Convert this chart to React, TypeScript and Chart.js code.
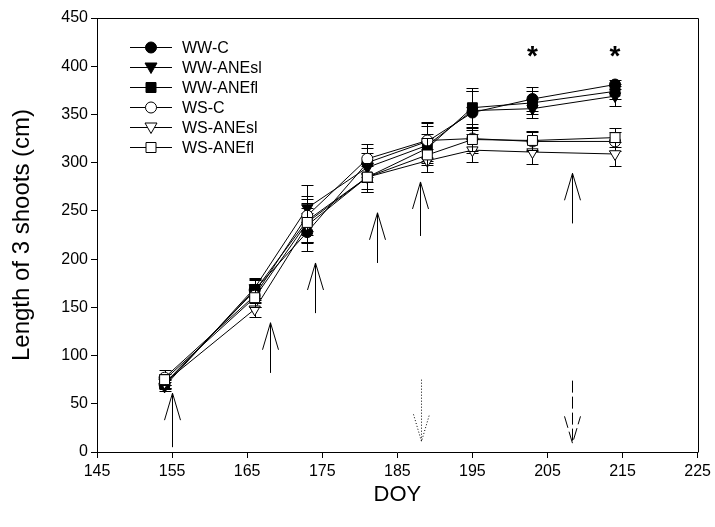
import React, { useEffect, useRef } from "react";
import { Chart, registerables } from "chart.js";

Chart.register(...registerables);

// ---- data ----
const days = [154, 166, 173, 181, 189, 195, 203, 214];
const seriesNames = ["WW-C", "WW-ANEsl", "WW-ANEfl", "WS-C", "WS-ANEsl", "WS-ANEfl"];
const wwC = [70, 168, 228, 300, 322, 352, 366, 381];
const wwAnesl = [68, 170, 253, 295, 318, 354, 356, 369];
const wwAnefl = [71, 167, 240, 285, 315, 357, 362, 374];
const wsC = [77, 162, 245, 304, 323, 325, 322, 322];
const wsAnesl = [72, 148, 235, 285, 302, 313, 311, 309];
const wsAnefl = [75, 160, 238, 285, 308, 324, 323, 326];
const errWwC = [5, 10, 20, 15, 20, 22, 12, 5];
const errWwAnesl = [5, 10, 24, 15, 20, 20, 10, 10];
const errWwAnefl = [5, 12, 22, 12, 15, 20, 12, 8];
const errWsC = [8, 12, 20, 15, 18, 15, 10, 10];
const errWsAnesl = [6, 8, 18, 15, 12, 12, 12, 12];
const errWsAnefl = [6, 10, 20, 15, 18, 12, 10, 10];

const xTicks = [145, 155, 165, 175, 185, 195, 205, 215, 225];
const yTicks = [0, 50, 100, 150, 200, 250, 300, 350, 400, 450];

// solid upward arrows
const arrowDays = [155, 168, 174, 182.3, 188, 208.2];
const arrowTips = [61, 134, 196, 248, 280, 289];
const arrowTails = [5, 82, 144, 196, 224, 237];
// downward arrows (dotted, dashed)
const dropDays = [188.1, 208.2];
const dropTops = [75, 74];
const dropTips = [11, 9];
// significance stars
const starDays = [203, 214];
const starValues = [418, 418];

const seriesValues = [wwC, wwAnesl, wwAnefl, wsC, wsAnesl, wsAnefl];
const seriesErrors = [errWwC, errWwAnesl, errWwAnefl, errWsC, errWsAnesl, errWsAnefl];
const seriesShapes = ["circle", "triangle", "rect", "circle", "triangle", "rect"];
const seriesFilled = [true, true, true, false, false, false];

const FONT = "'Liberation Sans', Arial, Helvetica, sans-serif";

function drawMarker(ctx: CanvasRenderingContext2D, shape: string, filled: boolean, x: number, y: number) {
  ctx.save();
  ctx.beginPath();
  if (shape === "circle") {
    ctx.arc(x, y, 5.5, 0, Math.PI * 2);
  } else if (shape === "triangle") {
    ctx.moveTo(x - 6, y - 4.5);
    ctx.lineTo(x + 6, y - 4.5);
    ctx.lineTo(x, y + 6);
    ctx.closePath();
  } else {
    ctx.rect(x - 5, y - 5, 10, 10);
  }
  ctx.fillStyle = filled ? "#000" : "#fff";
  ctx.fill();
  ctx.lineWidth = 1;
  ctx.strokeStyle = "#000";
  ctx.stroke();
  ctx.restore();
}

function drawArrow(ctx: CanvasRenderingContext2D, x: number, yTail: number, yTip: number, dash: number[]) {
  const dir = yTip < yTail ? 1 : -1; // 1 = pointing up
  const headLen = 27;
  const halfW = 8;
  ctx.save();
  ctx.strokeStyle = "#000";
  ctx.lineWidth = 1;
  ctx.setLineDash(dash);
  ctx.beginPath();
  ctx.moveTo(x, yTail);
  ctx.lineTo(x, yTip);
  ctx.moveTo(x - halfW, yTip + dir * headLen);
  ctx.lineTo(x, yTip);
  ctx.lineTo(x + halfW, yTip + dir * headLen);
  ctx.stroke();
  ctx.restore();
}

const customPlugin = {
  id: "custom",
  beforeDatasetDraw(chart: any, args: any) {
    const ctx = chart.ctx;
    const xs = chart.scales.x;
    const ys = chart.scales.y;
    const i = args.index;
    const vals = seriesValues[i];
    const errs = seriesErrors[i];
    ctx.save();
    ctx.strokeStyle = "#000";
    ctx.lineWidth = 1;
    ctx.beginPath();
    for (let k = 0; k < days.length; k++) {
      const x = Math.round(xs.getPixelForValue(days[k])) + 0.5;
      const yTop = Math.round(ys.getPixelForValue(vals[k] + errs[k])) + 0.5;
      const yBot = Math.round(ys.getPixelForValue(vals[k] - errs[k])) + 0.5;
      ctx.moveTo(x, yTop);
      ctx.lineTo(x, yBot);
      ctx.moveTo(x - 6, yTop);
      ctx.lineTo(x + 6, yTop);
      ctx.moveTo(x - 6, yBot);
      ctx.lineTo(x + 6, yBot);
    }
    ctx.stroke();
    ctx.restore();
  },
  afterDatasetsDraw(chart: any) {
    const ctx = chart.ctx;
    const xs = chart.scales.x;
    const ys = chart.scales.y;
    const a = chart.chartArea;
    // frame
    ctx.save();
    ctx.strokeStyle = "#000";
    ctx.lineWidth = 1;
    ctx.beginPath();
    ctx.moveTo(Math.round(a.left) + 0.5, Math.round(a.top) + 0.5);
    ctx.lineTo(Math.round(a.right) + 0.5, Math.round(a.top) + 0.5);
    ctx.lineTo(Math.round(a.right) + 0.5, Math.round(a.bottom) + 0.5);
    ctx.stroke();
    ctx.restore();
    // arrows
    for (let k = 0; k < arrowDays.length; k++) {
      const x = Math.round(xs.getPixelForValue(arrowDays[k])) + 0.5;
      drawArrow(ctx, x, ys.getPixelForValue(arrowTails[k]), ys.getPixelForValue(arrowTips[k]), []);
    }
    drawArrow(ctx, Math.round(xs.getPixelForValue(dropDays[0])) + 0.5, ys.getPixelForValue(dropTops[0]), ys.getPixelForValue(dropTips[0]), [1, 2]);
    drawArrow(ctx, Math.round(xs.getPixelForValue(dropDays[1])) + 0.5, ys.getPixelForValue(dropTops[1]), ys.getPixelForValue(dropTips[1]), [12, 4]);
    // stars
    ctx.save();
    ctx.fillStyle = "#000";
    ctx.font = "bold 28px " + FONT;
    ctx.textAlign = "center";
    ctx.textBaseline = "alphabetic";
    for (let k = 0; k < starDays.length; k++) {
      ctx.fillText("*", xs.getPixelForValue(starDays[k]), ys.getPixelForValue(starValues[k]) + 16);
    }
    ctx.restore();
    // legend
    ctx.save();
    ctx.font = "16px " + FONT;
    ctx.fillStyle = "#000";
    ctx.textBaseline = "middle";
    ctx.textAlign = "left";
    for (let i = 0; i < seriesNames.length; i++) {
      const y = 47.5 + i * 20;
      ctx.strokeStyle = "#000";
      ctx.lineWidth = 1;
      ctx.beginPath();
      ctx.moveTo(130, y);
      ctx.lineTo(172, y);
      ctx.stroke();
      drawMarker(ctx, seriesShapes[i], seriesFilled[i], 151, y);
      ctx.fillText(seriesNames[i], 182, y + 1);
    }
    ctx.restore();
  },
};

function pointStyleFor(i: number) {
  return seriesShapes[i];
}

export default function App() {
  const ref = useRef<HTMLCanvasElement | null>(null);
  useEffect(() => {
    if (!ref.current) return;
    const datasets = seriesNames.map((name, i) => ({
      label: name,
      data: days.map((d, k) => ({ x: d, y: seriesValues[i][k] })),
      borderColor: "#000",
      borderWidth: 1,
      backgroundColor: seriesFilled[i] ? "#000" : "#fff",
      pointBackgroundColor: seriesFilled[i] ? "#000" : "#fff",
      pointBorderColor: "#000",
      pointBorderWidth: 1,
      pointStyle: pointStyleFor(i),
      pointRotation: seriesShapes[i] === "triangle" ? 180 : 0,
      pointRadius: seriesShapes[i] === "circle" ? 5.5 : seriesShapes[i] === "rect" ? 7 : 6.5,
      showLine: true,
      tension: 0,
      order: seriesNames.length - i,
    }));
    const chart = new Chart(ref.current, {
      type: "scatter",
      data: { datasets },
      plugins: [customPlugin],
      options: {
        animation: false,
        responsive: false,
        devicePixelRatio: 1,
        layout: { padding: { top: 18, right: 17, left: 0, bottom: 0 } },
        plugins: { legend: { display: false }, tooltip: { enabled: false } },
        scales: {
          x: {
            type: "linear",
            min: 145,
            max: 225,
            afterBuildTicks: (s: any) => {
              s.ticks = xTicks.map((v) => ({ value: v }));
            },
            afterFit: (s: any) => {
              s.height = 75;
            },
            ticks: { color: "#000", font: { size: 16, family: FONT }, padding: 4, maxRotation: 0 },
            grid: { drawOnChartArea: false, drawTicks: true, tickLength: 6, color: "#000" },
            border: { display: true, color: "#000", width: 1 },
            title: { display: true, text: "DOY", color: "#000", font: { size: 22, family: FONT }, padding: { top: 0, bottom: 19 } },
          },
          y: {
            type: "linear",
            min: 0,
            max: 450,
            afterBuildTicks: (s: any) => {
              s.ticks = yTicks.map((v) => ({ value: v }));
            },
            afterFit: (s: any) => {
              s.width = 97;
            },
            ticks: { color: "#000", font: { size: 16, family: FONT }, padding: 3 },
            grid: { drawOnChartArea: false, drawTicks: true, tickLength: 6, color: "#000" },
            border: { display: true, color: "#000", width: 1 },
            title: { display: true, text: "Length of 3 shoots (cm)", color: "#000", font: { size: 24, family: FONT }, padding: { top: 8, bottom: 0 } },
          },
        },
      },
    });
    return () => chart.destroy();
  }, []);
  return (
    <div style={{ position: "absolute", left: 0, top: 0, width: 715, height: 527, background: "#fff" }}>
      <canvas ref={ref} width={715} height={527} style={{ display: "block" }} />
    </div>
  );
}
